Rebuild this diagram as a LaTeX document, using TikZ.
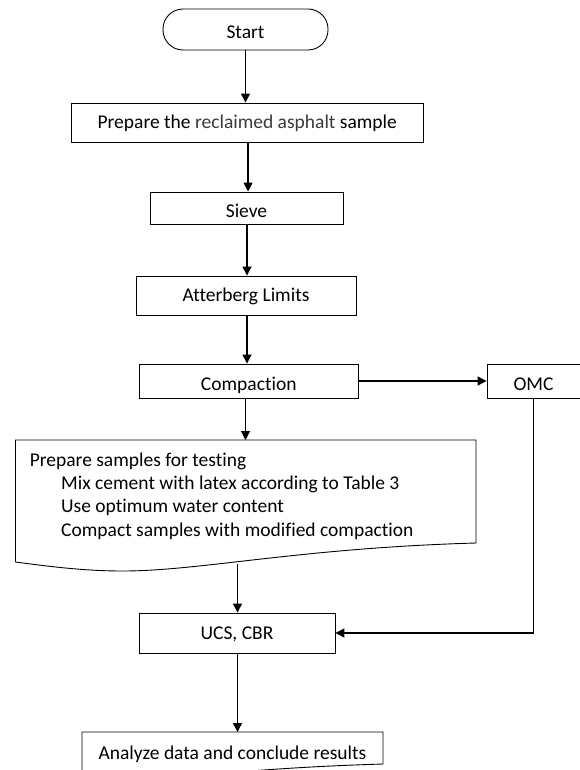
\documentclass[tikz,border=0pt]{standalone}
\usepackage{fontspec}
\setmainfont{Carlito}[Ligatures=NoCommon]
\usetikzlibrary{arrows.meta}
\definecolor{softtext}{HTML}{3A3A3A}
\tikzset{
  box/.style={draw, line width=0.9pt, inner sep=0pt, text height=12.6pt, text depth=0pt,
              font=\fontsize{19.5}{23.7}\selectfont},
  lowtext/.style={text height=18.6pt},
  plain/.style={inner sep=0pt, font=\fontsize{19.5}{23.7}\selectfont},
  shapeline/.style={draw, line width=0.9pt},
  flow/.style={draw, line width=1.3pt, -{Triangle[length=9pt,width=9pt]}},
  link/.style={draw, line width=1.1pt}
}
\begin{document}
\begin{tikzpicture}[x=1pt,y=-1pt]
\useasboundingbox (0,0) rectangle (579,770);
% nodes
\node[box, lowtext, rounded corners=20pt, minimum width=165pt, minimum height=41pt] (start) at (245.5,29.5) {Start};
\node[box, minimum width=351.5pt, minimum height=39pt] (prep) at (247.25,122.5) {Prepare the \textcolor{softtext}{reclaimed asphalt} sample};
\node[box, lowtext, minimum width=193pt, minimum height=32pt] (sieve) at (246.5,208) {Sieve};
\node[box, minimum width=220pt, minimum height=39pt] (att) at (246,295.5) {Atterberg Limits};
\node[box, lowtext, minimum width=219.5pt, minimum height=34pt] (comp) at (248.75,381) {Compaction};
\node[box, lowtext, minimum width=93pt, minimum height=34pt] (omc) at (533.5,381) {OMC};
\node[box, minimum width=196pt, minimum height=40pt] (ucs) at (237,633) {UCS, CBR};
% document shape
\path[shapeline] (15.5,562) -- (15.5,440) -- (476,440) -- (476,543)
   .. controls (300,548) and (200,571) .. (123,571)
   .. controls (90,571) and (60,568) .. (15.5,562);
\coordinate (doctop) at (245.5,440);
\coordinate (docout) at (237.5,563.5);
\node[plain, anchor=base west] (d1) at (29.6,466) {Prepare samples for testing};
\node[plain, anchor=base west] (d2) at (61,489.3) {Mix cement with latex according to Table 3};
\node[plain, anchor=base west] (d3) at (61,512.7) {Use optimum water content};
\node[plain, anchor=base west] (d4) at (61,536.5) {Compact samples with modified compaction};
% analyze shape
\path[shapeline] (82,776) -- (82,732) -- (383,732) -- (383,764)
   .. controls (250,768) and (190,778) .. (152,778)
   .. controls (120,778) and (100,779) .. (82,776);
\coordinate (anatop) at (237.5,732);
\node[plain, anchor=base] (ana) at (232.5,759) {Analyze data and conclude results};
% connectors
\draw[flow] (start.south) -- (start.south |- prep.north);
\draw[flow] ([xshift=0.8pt]prep.south) -- ([xshift=0.8pt]prep.south |- sieve.north);
\draw[flow] ([xshift=0.5pt]sieve.south) -- ([xshift=0.5pt]sieve.south |- att.north);
\draw[flow] ([xshift=1pt]att.south) -- ([xshift=1pt]att.south |- comp.north);
\draw[flow] (comp.east) -- (omc.west);
\draw[flow] ([xshift=-3.25pt]comp.south) -- (doctop);
\draw[flow] (docout) -- (docout |- ucs.north);
\draw[link] (omc.south) -- (omc.south |- ucs.east);
\draw[flow] (omc.south |- ucs.east) -- (ucs.east);
\draw[flow] ([xshift=0.5pt]ucs.south) -- (anatop);
\end{tikzpicture}
\end{document}
